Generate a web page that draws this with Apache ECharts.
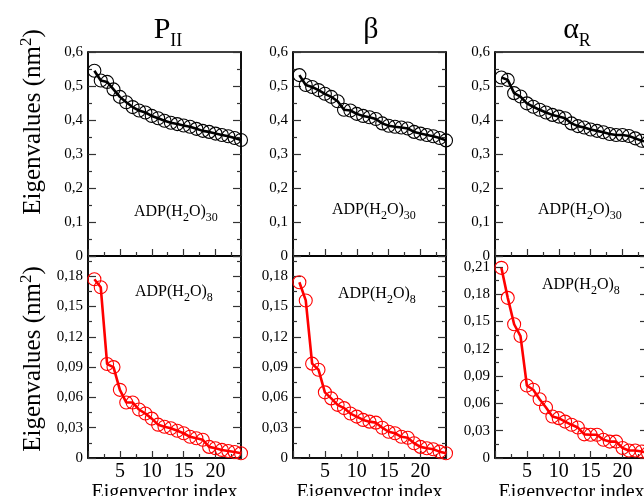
<!DOCTYPE html>
<html>
<head>
<meta charset="utf-8">
<script src="https://cdn.jsdelivr.net/npm/echarts@6/dist/echarts.min.js"></script>
<style>
  html, body { margin: 0; padding: 0; background: #fff; }
  #chart { width: 644px; height: 496px; }
</style>
</head>
<body>
<div id="chart"></div>
<script>
// ---- Data ----
const eigIndex = [1,2,3,4,5,6,7,8,9,10,11,12,13,14,15,16,17,18,19,20,21,22,23,24];

const pII_water30  = [0.545,0.516,0.512,0.490,0.468,0.452,0.438,0.428,0.422,0.412,0.405,0.398,0.392,0.388,0.384,0.380,0.374,0.368,0.365,0.360,0.356,0.352,0.347,0.341];
const pII_water8   = [0.177,0.169,0.093,0.090,0.0675,0.055,0.055,0.048,0.044,0.039,0.033,0.031,0.0295,0.027,0.0245,0.021,0.0195,0.018,0.011,0.0096,0.008,0.007,0.006,0.0047];

const beta_water30 = [0.532,0.503,0.497,0.488,0.477,0.468,0.455,0.430,0.428,0.418,0.412,0.408,0.403,0.390,0.383,0.380,0.378,0.375,0.365,0.360,0.356,0.352,0.347,0.340];
const beta_water8  = [0.174,0.156,0.0934,0.0874,0.065,0.059,0.0526,0.0494,0.044,0.041,0.0377,0.036,0.035,0.030,0.026,0.0245,0.021,0.020,0.0146,0.011,0.0096,0.0086,0.0063,0.0047];

const alpha_water30 = [0.525,0.518,0.479,0.469,0.449,0.439,0.430,0.422,0.415,0.410,0.405,0.390,0.382,0.378,0.372,0.368,0.364,0.359,0.356,0.356,0.353,0.346,0.339,0.335];
const alpha_water8  = [0.209,0.176,0.147,0.134,0.0796,0.075,0.0646,0.0555,0.0456,0.0438,0.040,0.0365,0.0335,0.026,0.0255,0.0255,0.020,0.018,0.018,0.011,0.0083,0.0083,0.0072,0.0055];

const panelNames = [['P','II'], ['β',''], ['α','R']];
const topSeries = [pII_water30, beta_water30, alpha_water30];
const botSeries = [pII_water8, beta_water8, alpha_water8];
const topMax = [0.6, 0.6, 0.6];
const botMax = [0.2, 0.2, 0.222];
const topInterval = 0.1;
const botInterval = 0.03;
const xTickInterval = 5;
const xMin = 0, xMax = 24;

// ---- Layout ----
const FONT = '"Liberation Serif", "DejaVu Serif", serif';
const colLeft = [88, 293, 495];
const colWidth = 153;
const topRowTop = 52, topRowH = 204;
const botRowTop = 256, botRowH = 202;

function fmt(dec) {
  return function (v) {
    if (Math.abs(v) < 1e-9) return '0';
    return v.toFixed(dec).replace('.', ',');
  };
}

const grids = [], xAxes = [], yAxes = [], series = [], titles = [], graphics = [];

function addPanel(col, row) {
  const gi = grids.length;
  const isTop = row === 0;
  grids.push({
    left: colLeft[col], width: colWidth,
    top: isTop ? topRowTop : botRowTop,
    height: isTop ? topRowH : botRowH,
    containLabel: false, outerBoundsMode: 'none',
    show: true, borderColor: '#000', borderWidth: 1.5, backgroundColor: 'transparent'
  });
  xAxes.push({
    type: 'value', gridIndex: gi, min: xMin, max: xMax, interval: xTickInterval,
    axisLine: { show: true, lineStyle: { color: '#000', width: 1.5 } },
    axisTick: { show: true, inside: true, length: 7, lineStyle: { color: '#333', width: 1.2 } },
    minorTick: { show: true, splitNumber: 2, length: 4, lineStyle: { color: '#333', width: 1.2 } },
    splitLine: { show: false },
    axisLabel: {
      show: !isTop, showMinLabel: false, showMaxLabel: false,
      fontFamily: FONT, fontSize: 20, color: '#000', margin: 4
    },
    name: isTop ? '' : 'Eigenvector index',
    nameLocation: 'middle', nameGap: 24,
    nameTextStyle: { fontFamily: FONT, fontSize: 20, color: '#000' }
  });
  const ymax = isTop ? topMax[col] : botMax[col];
  const yint = isTop ? topInterval : botInterval;
  const dec = isTop ? 1 : 2;
  const leftIdx = yAxes.length;
  const tickCommon = {
    axisTick: { show: true, inside: true, length: 8, lineStyle: { color: '#333', width: 1.2 } },
    minorTick: { show: true, splitNumber: 2, length: 4, lineStyle: { color: '#333', width: 1.2 } },
    splitLine: { show: false }
  };
  yAxes.push(Object.assign({
    type: 'value', gridIndex: gi, position: 'left', min: 0, max: ymax, interval: yint,
    axisLine: { show: true, lineStyle: { color: '#000', width: 1.5 } },
    axisLabel: {
      formatter: fmt(dec), showMaxLabel: isTop, fontFamily: FONT, fontSize: 15, color: '#000', margin: 5
    }
  }, tickCommon));
  yAxes.push(Object.assign({
    type: 'value', gridIndex: gi, position: 'right', min: 0, max: ymax, interval: yint,
    axisLine: { show: true, lineStyle: { color: '#000', width: 1.5 } },
    axisLabel: { show: false }
  }, tickCommon));
  const vals = isTop ? topSeries[col] : botSeries[col];
  const color = isTop ? '#000000' : '#ff0000';
  series.push({
    type: 'line', xAxisIndex: gi, yAxisIndex: leftIdx,
    data: eigIndex.map((x, i) => [x, vals[i]]),
    clip: false,
    symbol: 'circle', symbolSize: 13,
    itemStyle: { color: 'rgba(0,0,0,0)', borderColor: color, borderWidth: 1.1 },
    lineStyle: { color: color, width: 2.6 },
    emphasis: { disabled: true },
    animation: false
  });
}

for (let c = 0; c < 3; c++) { addPanel(c, 0); addPanel(c, 1); }

// Panel titles
const titleCenters = [163, 366, 572];
for (let c = 0; c < 3; c++) {
  const [main, sub] = panelNames[c];
  titles.push({
    left: titleCenters[c], top: 10, textAlign: 'center',
    text: sub ? '{m|' + main + '}{s|' + sub + '}' : '{m|' + main + '}',
    textStyle: {
      fontWeight: 'normal',
      rich: {
        m: { fontFamily: FONT, fontSize: 30, fontWeight: 'normal', color: '#000', verticalAlign: 'bottom', padding: [0, 0, 5, 0] },
        s: { fontFamily: FONT, fontSize: 18, fontWeight: 'normal', color: '#000', verticalAlign: 'bottom' }
      }
    }
  });
}

// Annotations
const annot30 = '{m|ADP(H}{s|2}{m|O)}{s|30}';
const annot8 = '{m|ADP(H}{s|2}{m|O)}{s|8}';
const annRich = {
  m: { fontFamily: FONT, fontSize: 16, fontWeight: 'normal', color: '#000', verticalAlign: 'bottom', padding: [0, 0, 4, 0] },
  s: { fontFamily: FONT, fontSize: 12, fontWeight: 'normal', color: '#000', verticalAlign: 'bottom' }
};
const annTop = [[129, 199], [327, 197], [533, 197]];
const annBot = [[130, 279], [333, 281], [537, 272]];
for (let c = 0; c < 3; c++) {
  titles.push({ left: annTop[c][0], top: annTop[c][1], text: annot30, textStyle: { fontWeight: 'normal', rich: annRich } });
  titles.push({ left: annBot[c][0], top: annBot[c][1], text: annot8, textStyle: { fontWeight: 'normal', rich: annRich } });
}

// Rotated y titles
const yTitleRich = {
  m: { fontFamily: FONT, fontSize: 25, fill: '#000', verticalAlign: 'bottom' },
  p: { fontFamily: FONT, fontSize: 17, fill: '#000', verticalAlign: 'bottom', padding: [0, 0, 11, 0] }
};
[[32, 122], [32, 359]].forEach(function (p) {
  graphics.push({
    type: 'text', x: p[0], y: p[1], rotation: Math.PI / 2,
    style: {
      text: '{m|Eigenvalues (nm}{p|2}{m|)}',
      rich: yTitleRich,
      align: 'center', verticalAlign: 'middle'
    }
  });
});

const chart = echarts.init(document.getElementById('chart'), null, { renderer: 'canvas' });
chart.setOption({
  animation: false,
  backgroundColor: '#fff',
  title: titles,
  grid: grids,
  xAxis: xAxes,
  yAxis: yAxes,
  series: series,
  graphic: graphics
});
</script>
</body>
</html>
